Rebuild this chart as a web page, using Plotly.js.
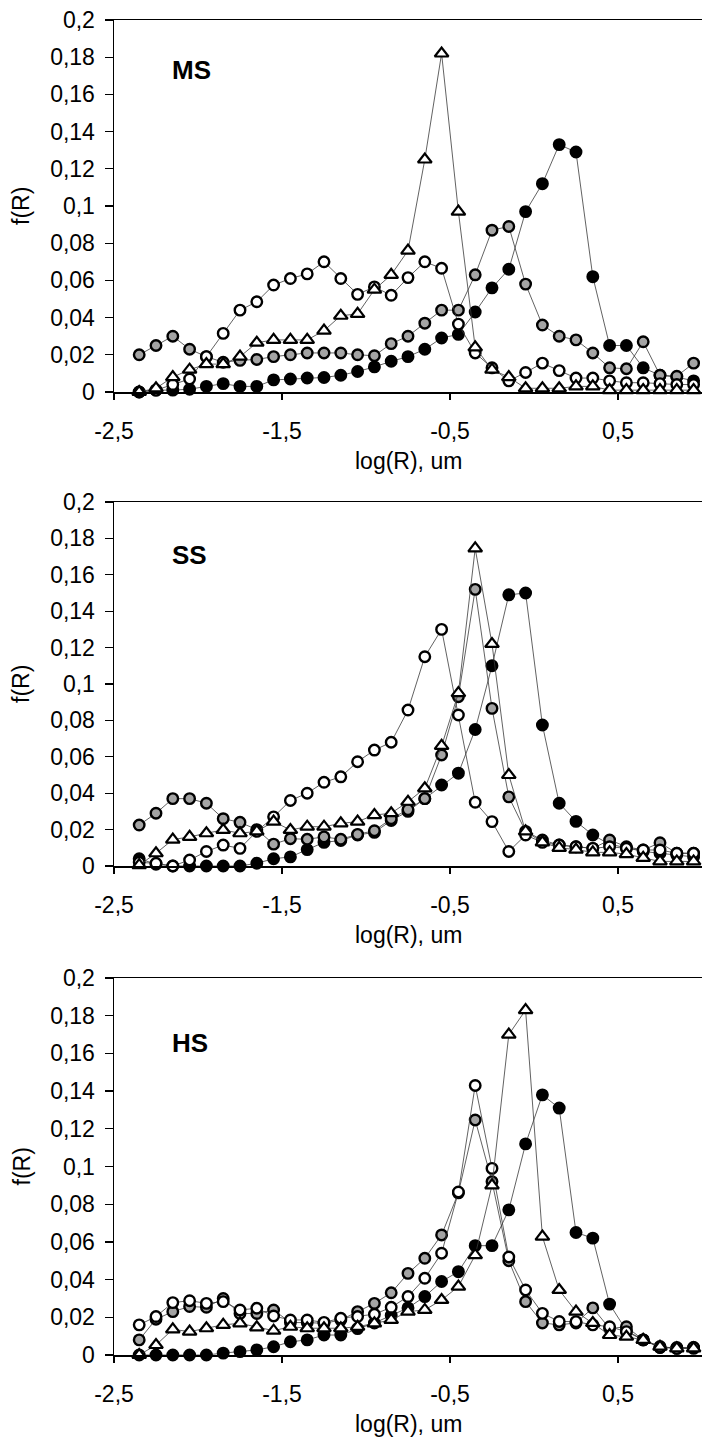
<!DOCTYPE html>
<html>
<head>
<meta charset="utf-8">
<script src="https://cdn.plot.ly/plotly-3.0.1.min.js"></script>
<style>html,body{margin:0;padding:0;background:#fff;}#chart{width:702px;height:1439px;}</style>
</head>
<body>
<div id="chart"></div>
<script>
// log(R) positions (um)
const xLog = [-2.35,-2.25,-2.15,-2.05,-1.95,-1.85,-1.75,-1.65,-1.55,-1.45,-1.35,-1.25,-1.15,-1.05,-0.95,-0.85,-0.75,-0.65,-0.55,-0.45,-0.35,-0.25,-0.15,-0.05,0.05,0.15,0.25,0.35,0.45,0.55,0.65,0.75,0.85,0.95];

// MS panel
const msBlack = [0.000,0.001,0.001,0.0015,0.003,0.0045,0.003,0.003,0.0065,0.007,0.0075,0.0078,0.009,0.011,0.0135,0.0165,0.019,0.023,0.029,0.031,0.043,0.056,0.066,0.097,0.112,0.133,0.129,0.062,0.025,0.025,0.013,0.009,0.008,0.006];
const msGrey  = [0.020,0.025,0.030,0.023,0.019,0.016,0.017,0.0175,0.019,0.020,0.021,0.021,0.021,0.020,0.0195,0.026,0.030,0.037,0.044,0.044,0.063,0.087,0.089,0.058,0.036,0.030,0.028,0.021,0.013,0.0125,0.027,0.009,0.0085,0.0155];
const msOpen  = [0.000,0.001,0.004,0.007,0.019,0.0315,0.044,0.0485,0.0575,0.061,0.0635,0.070,0.061,0.0525,0.0565,0.052,0.0615,0.070,0.0665,0.0365,0.021,0.013,0.006,0.0105,0.0155,0.0115,0.0075,0.0075,0.006,0.005,0.005,0.0045,0.004,0.004];
const msTri   = [0.000,0.002,0.008,0.012,0.015,0.015,0.019,0.0265,0.028,0.028,0.028,0.033,0.041,0.042,0.055,0.063,0.076,0.125,0.182,0.097,0.024,0.012,0.008,0.002,0.002,0.002,0.003,0.003,0.001,0.001,0.001,0.001,0.001,0.001];

// SS panel
const ssBlack = [0.004,0.001,0.000,0.000,0.000,0.000,0.000,0.0015,0.004,0.005,0.009,0.013,0.014,0.017,0.0185,0.025,0.030,0.037,0.0445,0.051,0.075,0.110,0.149,0.150,0.0775,0.0345,0.0245,0.017,0.012,0.010,0.008,0.007,0.006,0.005];
const ssGrey  = [0.0225,0.029,0.037,0.037,0.0345,0.026,0.024,0.020,0.012,0.015,0.0147,0.016,0.0147,0.0174,0.0194,0.026,0.031,0.037,0.061,0.093,0.152,0.0866,0.038,0.019,0.0143,0.0115,0.0106,0.0097,0.0143,0.0106,0.0088,0.0128,0.007,0.007];
const ssOpen  = [0.002,0.0015,0.000,0.0033,0.008,0.0115,0.0097,0.019,0.027,0.036,0.040,0.046,0.049,0.0573,0.0637,0.068,0.0857,0.115,0.130,0.083,0.035,0.0244,0.008,0.017,0.013,0.0115,0.0106,0.0097,0.0106,0.0097,0.0088,0.0088,0.007,0.007];
const ssTri   = [0.0005,0.007,0.0145,0.016,0.018,0.0198,0.018,0.019,0.0244,0.0198,0.0216,0.0216,0.0234,0.0244,0.028,0.029,0.0353,0.0427,0.066,0.095,0.1745,0.122,0.050,0.019,0.013,0.010,0.009,0.0075,0.0075,0.0065,0.0045,0.0025,0.0025,0.0025];

// HS panel
const hsBlack = [0.000,0.000,0.000,0.000,0.000,0.001,0.0018,0.0027,0.0044,0.007,0.008,0.0106,0.0106,0.014,0.017,0.021,0.025,0.031,0.039,0.0442,0.058,0.058,0.077,0.112,0.138,0.131,0.065,0.062,0.027,0.013,0.008,0.004,0.0035,0.0035];
const hsGrey  = [0.008,0.019,0.023,0.0257,0.0253,0.030,0.022,0.022,0.0239,0.0172,0.0172,0.0168,0.0186,0.023,0.0274,0.033,0.0433,0.0513,0.0637,0.086,0.1247,0.092,0.050,0.0283,0.017,0.016,0.017,0.025,0.014,0.015,0.008,0.004,0.004,0.004];
const hsOpen  = [0.016,0.0204,0.0278,0.0288,0.0274,0.0283,0.0239,0.0248,0.0207,0.0186,0.0186,0.0173,0.0195,0.0204,0.0216,0.0253,0.031,0.0407,0.054,0.0865,0.143,0.099,0.052,0.0345,0.0221,0.0178,0.0177,0.016,0.015,0.0124,0.008,0.0045,0.0035,0.004];
const hsTri   = [0.000,0.0053,0.0136,0.0124,0.0142,0.016,0.0168,0.0147,0.0129,0.015,0.0142,0.0142,0.0142,0.015,0.0168,0.0186,0.023,0.0239,0.0292,0.0363,0.053,0.090,0.170,0.183,0.0628,0.0345,0.023,0.017,0.0106,0.0097,0.008,0.0044,0.0035,0.0035];

// Panel labels and tick labels
const panelNames = ["MS", "SS", "HS"];
const yTickVals = [0,0.02,0.04,0.06,0.08,0.1,0.12,0.14,0.16,0.18,0.2];
const yTickText = ["0","0,02","0,04","0,06","0,08","0,1","0,12","0,14","0,16","0,18","0,2"];
const xTickVals = [-2.5,-1.5,-0.5,0.5];
const xTickText = ["-2,5","-1,5","-0,5","0,5"];
const xTitle = "log(R), um";
const yTitle = "f(R)";

const panels = [
  {black: msBlack, grey: msGrey, open: msOpen, tri: msTri},
  {black: ssBlack, grey: ssGrey, open: ssOpen, tri: ssTri},
  {black: hsBlack, grey: hsGrey, open: hsOpen, tri: hsTri}
];

const FONT = '"Liberation Sans", Arial, Helvetica, sans-serif';
const lineStyle = {color: '#3a3a3a', width: 0.8};
const styles = {
  black: {symbol: 'circle', size: 10.5, color: '#000000', line: {color: '#000', width: 2.4}},
  grey:  {symbol: 'circle', size: 10.5, color: '#a4a4a4', line: {color: '#000', width: 2.4}},
  open:  {symbol: 'circle', size: 10.5, color: '#ffffff', line: {color: '#000', width: 2.4}},
  tri:   {symbol: 'triangle-up', size: 12, color: '#ffffff', line: {color: '#000', width: 2.2}}
};
const order = ['black', 'grey', 'open', 'tri'];

const traces = [];
panels.forEach((p, i) => {
  const sfx = i === 0 ? '' : String(i + 1);
  order.forEach(key => {
    traces.push({
      type: 'scatter', mode: 'lines+markers',
      x: xLog, y: p[key],
      xaxis: 'x' + sfx, yaxis: 'y' + sfx,
      line: lineStyle, marker: styles[key],
      cliponaxis: false, hoverinfo: 'skip'
    });
  });
});

// panel pixel geometry (top, bottom in px from page top)
const H = 1439;
const geo = [[20, 392], [502, 866], [978, 1355]];
const labelY = [0.173, 0.171, 0.1655];

const layout = {
  width: 702, height: H,
  margin: {l: 114, r: 0, t: 0, b: 0},
  paper_bgcolor: '#fff', plot_bgcolor: '#fff',
  showlegend: false,
  font: {family: FONT, size: 24, color: '#000'},
  annotations: []
};

geo.forEach((g, i) => {
  const sfx = i === 0 ? '' : String(i + 1);
  const dom = [1 - g[1] / H, 1 - g[0] / H];
  layout['xaxis' + sfx] = {
    domain: [0, 1], anchor: 'y' + sfx, range: [-2.5, 1.0],
    showline: true, linecolor: '#000', linewidth: 1.5, mirror: true,
    ticks: 'outside', ticklen: 6, tickwidth: 1.2, tickcolor: '#000',
    tickvals: xTickVals, ticktext: xTickText,
    tickfont: {family: FONT, size: 23, color: '#000'},
    ticklabelstandoff: 12,
    showgrid: false, zeroline: false, fixedrange: true
  };
  layout['yaxis' + sfx] = {
    domain: dom, anchor: 'x' + sfx, range: [0, 0.2],
    showline: true, linecolor: '#000', linewidth: 1.5,
    ticks: 'outside', ticklen: 8, tickwidth: 1.2, tickcolor: '#000',
    tickvals: yTickVals, ticktext: yTickText,
    tickfont: {family: FONT, size: 23, color: '#000'},
    ticklabelstandoff: 5,
    showgrid: false, zeroline: false, fixedrange: true
  };
  // x title
  layout.annotations.push({
    text: xTitle, xref: 'paper', yref: 'paper',
    x: 0.5, y: 1 - (g[1] + 69) / H, xanchor: 'center', yanchor: 'middle',
    showarrow: false, font: {family: FONT, size: 23, color: '#000'}
  });
  // y title
  layout.annotations.push({
    text: yTitle, xref: 'paper', yref: 'paper', textangle: -90,
    x: (21 - 114) / 588, y: 1 - (g[0] + g[1]) / 2 / H, xanchor: 'center', yanchor: 'middle',
    showarrow: false, font: {family: FONT, size: 23, color: '#000'}
  });
  // panel label
  layout.annotations.push({
    text: '<b>' + panelNames[i] + '</b>', xref: 'x' + sfx, yref: 'y' + sfx,
    x: -2.167, y: labelY[i], xanchor: 'left', yanchor: 'middle',
    showarrow: false, font: {family: FONT, size: 26, color: '#000'}
  });
});

Plotly.newPlot('chart', traces, layout, {staticPlot: true, displayModeBar: false});
</script>
</body>
</html>
